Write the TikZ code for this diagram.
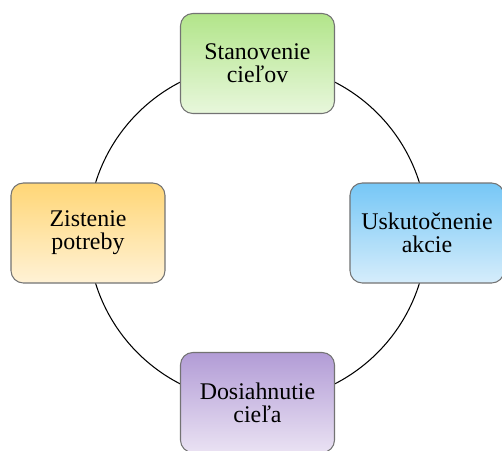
\documentclass[tikz,border=0pt]{standalone}
\usepackage{fontspec}
\setmainfont{Liberation Serif}
\newfontfamily\boxfont{Liberation Serif}
\usepackage{xcolor}
\usepackage{tikz}
\usetikzlibrary{positioning}
\definecolor{greentop}{RGB}{178,229,138}
\definecolor{greenbot}{RGB}{232,247,220}
\definecolor{bluetop}{RGB}{118,199,246}
\definecolor{bluebot}{RGB}{214,237,251}
\definecolor{purpletop}{RGB}{178,156,214}
\definecolor{purplebot}{RGB}{234,226,243}
\definecolor{orangetop}{RGB}{255,214,118}
\definecolor{orangebot}{RGB}{255,242,214}
\tikzset{
  stepbox/.style={rectangle, rounded corners=7pt, draw=black!55, line width=0.6pt,
                  minimum height=2cm, minimum width=3.08cm, align=center,
                  font=\boxfont\fontsize{13.6}{13.2}\selectfont},
  ring/.style={draw=black, line width=0.6pt},
}

\begin{document}
\begin{tikzpicture}
  \useasboundingbox (-5.15,-4.34) rectangle (4.89,4.66);
  \coordinate (ctr) at (0,0);

  % cycle line
  \draw[ring] (ctr) circle (3.39cm);

  % the four stages
  \node[stepbox, top color=greentop, bottom color=greenbot]
    (goal) at (90:3.39) {Stanovenie\\cieľov};
  \node[stepbox, top color=bluetop, bottom color=bluebot]
    (act) at (0:3.39) {Uskutočnenie\\akcie};
  \node[stepbox, top color=purpletop, bottom color=purplebot]
    (reach) at (270:3.39) {Dosiahnutie\\cieľa};
  \node[stepbox, top color=orangetop, bottom color=orangebot]
    (need) at (180:3.39) {Zistenie\\potreby};
\end{tikzpicture}
\end{document}
